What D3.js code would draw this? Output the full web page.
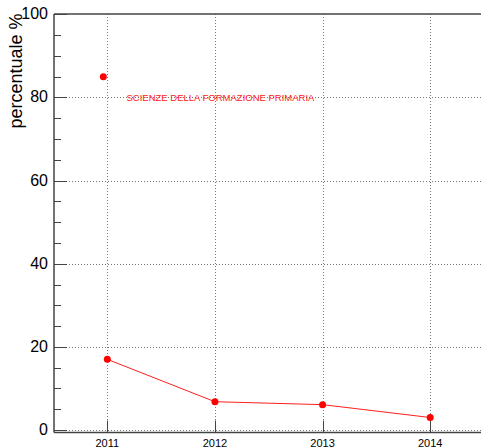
<!DOCTYPE html>
<html><head><meta charset="utf-8">
<script src="https://cdn.jsdelivr.net/npm/d3@7"></script>
<style>body{margin:0;background:#fff}svg{display:block}text{font-family:"Liberation Sans",Arial,sans-serif}</style>
</head><body>
<svg id="c" width="481" height="448"></svg>
<script>
const years = [2011, 2012, 2013, 2014];
const lineValues = [17.0, 6.8, 6.1, 3.0];
const pointYear = [2011];
const pointValue = [85];
const yTicks = [0, 20, 40, 60, 80, 100];
const yMinor = [5,10,15,25,30,35,45,50,55,65,70,75,85,90,95];
const seriesLabel = "SCIENZE DELLA FORMAZIONE PRIMARIA";
const yTitle = "percentuale %";

const svg = d3.select("#c");
const L = 54, R = 481, T = 14, B = 432.5;
const x = d3.scaleLinear().domain([2010.5, 2014.5]).range([53.5, 484]);
const y = d3.scaleLinear().domain([0, 100]).range([430, 14.3]);

// grid
const g = svg.append("g");
g.selectAll(".hg").data(yTicks.filter(d => d < 100)).join("line")
  .attr("x1", L).attr("x2", R).attr("y1", d => Math.round(y(d)) + 0.5).attr("y2", d => Math.round(y(d)) + 0.5)
  .attr("stroke", "#777").attr("stroke-width", 1).attr("stroke-dasharray", "1,2");
g.selectAll(".vg").data(years).join("line")
  .attr("x1", d => Math.round(x(d)) + 0.5).attr("x2", d => Math.round(x(d)) + 0.5).attr("y1", T).attr("y2", B)
  .attr("stroke", "#777").attr("stroke-width", 1).attr("stroke-dasharray", "1,2");

// axes frame
svg.append("line").attr("x1", L).attr("x2", R).attr("y1", T).attr("y2", T).attr("stroke", "#444").attr("stroke-width", 1.5);
svg.append("line").attr("x1", L).attr("x2", L).attr("y1", T).attr("y2", B).attr("stroke", "#444").attr("stroke-width", 1.5);
svg.append("line").attr("x1", L).attr("x2", R).attr("y1", B).attr("y2", B).attr("stroke", "#444").attr("stroke-width", 1.5);

// y ticks
svg.selectAll(".ymaj").data(yTicks).join("line")
  .attr("x1", L).attr("x2", L + 13).attr("y1", d => Math.round(y(d)) + 0.5).attr("y2", d => Math.round(y(d)) + 0.5)
  .attr("stroke", "#444");
svg.selectAll(".ymin").data(yMinor).join("line")
  .attr("x1", L).attr("x2", L + 7).attr("y1", d => Math.round(y(d)) + 0.5).attr("y2", d => Math.round(y(d)) + 0.5)
  .attr("stroke", "#444");
svg.selectAll(".ylab").data(yTicks).join("text")
  .attr("x", 48).attr("y", d => y(d) + 5).attr("text-anchor", "end")
  .attr("font-size", 16).attr("fill", "#000").text(d => d);

// x ticks
svg.selectAll(".xmaj").data(years).join("line")
  .attr("x1", d => Math.round(x(d)) + 0.5).attr("x2", d => Math.round(x(d)) + 0.5).attr("y1", B - 12).attr("y2", B)
  .attr("stroke", "#444");
svg.selectAll(".xlab").data(years).join("text")
  .attr("x", d => x(d)).attr("y", 446.5).attr("text-anchor", "middle")
  .attr("font-size", 11).attr("fill", "#000").text(d => d);

// y title
svg.append("text").attr("transform", "translate(22,71) rotate(-90)").attr("text-anchor", "middle")
  .attr("font-size", 18).attr("fill", "#000").text(yTitle);

// series line
const pts = years.map((d, i) => [d, lineValues[i]]);
svg.append("path").datum(pts)
  .attr("d", d3.line().x(d => x(d[0])).y(d => y(d[1])))
  .attr("fill", "none").attr("stroke", "#ff2020").attr("stroke-width", 1);
svg.selectAll(".pt").data(pts).join("circle")
  .attr("cx", d => x(d[0])).attr("cy", d => y(d[1])).attr("r", 3.5).attr("fill", "#ff0000");

// isolated point
svg.selectAll(".ip").data(pointYear.map((d, i) => [d, pointValue[i]])).join("circle")
  .attr("cx", d => x(d[0]) - 4).attr("cy", d => y(d[1])).attr("r", 3.5).attr("fill", "#ff0000");

svg.append("text").attr("x", 126.5).attr("y", 100.5).attr("font-size", 9.5).attr("fill", "#ff2020").text(seriesLabel);
</script>
</body></html>
